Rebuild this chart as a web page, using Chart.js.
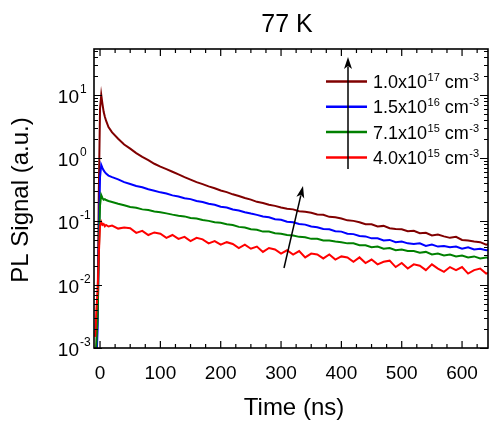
<!DOCTYPE html>
<html>
<head>
<meta charset="utf-8">
<script src="https://cdn.jsdelivr.net/npm/chart.js@4.4.0/dist/chart.umd.min.js"></script>
<style>
  html, body { margin: 0; padding: 0; background: #fff; }
  #wrap { width: 491px; height: 425px; }
</style>
</head>
<body>
<div id="wrap"><canvas id="pl-chart"></canvas></div>
<script>
// time axis (ns), dense at the excitation pulse
const timeNs = [-8, -6, -4, -2, 0, 2, 4, 6, 8, 10, 14,
  20, 30, 40, 50, 60, 70, 80, 90, 100, 110, 120, 130, 140, 150, 160, 170, 180, 190, 200,
  210, 220, 230, 240, 250, 260, 270, 280, 290, 300, 310, 320, 330, 340, 350, 360, 370, 380, 390, 400,
  410, 420, 430, 440, 450, 460, 470, 480, 490, 500, 510, 520, 530, 540, 550, 560, 570, 580, 590, 600,
  610, 620, 630, 640, 650];

// PL signal (a.u.) per excitation density
const signal1e17 = [0.0004, 0.0009, 0.004, 0.3, 6.0, 10.0, 7.2, 5.4, 4.5, 3.9, 3.1,
  2.55, 2.02, 1.64, 1.41, 1.2, 1.05, 0.93, 0.815, 0.735, 0.67, 0.61, 0.553, 0.5, 0.458, 0.418, 0.388, 0.358, 0.334, 0.308,
  0.29, 0.268, 0.252, 0.234, 0.221, 0.204, 0.196, 0.184, 0.176, 0.166, 0.158, 0.155, 0.145, 0.142, 0.137, 0.129, 0.127, 0.118, 0.116, 0.111,
  0.104, 0.102, 0.097, 0.09, 0.09, 0.083, 0.085, 0.078, 0.076, 0.075, 0.07, 0.071, 0.065, 0.066, 0.06, 0.062, 0.058, 0.055, 0.057, 0.051,
  0.05, 0.048, 0.047, 0.043, 0.045];
const signal15e16 = [0.0003, 0.0006, 0.002, 0.05, 0.5, 0.78, 0.7, 0.64, 0.6, 0.57, 0.53,
  0.50, 0.462, 0.418, 0.39, 0.362, 0.346, 0.322, 0.306, 0.288, 0.276, 0.258, 0.248, 0.233, 0.225, 0.21, 0.203, 0.19, 0.183, 0.171,
  0.166, 0.154, 0.149, 0.14, 0.133, 0.127, 0.12, 0.116, 0.108, 0.106, 0.099, 0.097, 0.091, 0.089, 0.083, 0.081, 0.076, 0.075, 0.07, 0.069,
  0.064, 0.063, 0.059, 0.058, 0.054, 0.054, 0.05, 0.051, 0.047, 0.048, 0.045, 0.044, 0.045, 0.041, 0.043, 0.04, 0.041, 0.039, 0.04, 0.037,
  0.039, 0.036, 0.037, 0.035, 0.036];
const signal71e15 = [0.0006, 0.0012, 0.003, 0.03, 0.18, 0.26, 0.235, 0.22, 0.225, 0.218, 0.21,
  0.203, 0.19, 0.18, 0.169, 0.164, 0.155, 0.151, 0.144, 0.14, 0.134, 0.128, 0.123, 0.12, 0.113, 0.111, 0.105, 0.102, 0.097, 0.095,
  0.09, 0.088, 0.082, 0.08, 0.075, 0.074, 0.069, 0.069, 0.065, 0.064, 0.061, 0.06, 0.057, 0.056, 0.053, 0.053, 0.05, 0.05, 0.048, 0.047,
  0.045, 0.045, 0.042, 0.042, 0.039, 0.04, 0.037, 0.038, 0.035, 0.036, 0.034, 0.034, 0.032, 0.033, 0.03, 0.031, 0.029, 0.03, 0.028, 0.029,
  0.027, 0.028, 0.026, 0.027, 0.025];
const signal40e15 = [0.0015, 0.004, 0.008, 0.03, 0.085, 0.098, 0.088, 0.091, 0.084, 0.088, 0.083,
  0.086, 0.077, 0.08, 0.078, 0.066, 0.071, 0.061, 0.067, 0.064, 0.055, 0.061, 0.053, 0.057, 0.049, 0.055, 0.052, 0.045, 0.049, 0.043,
  0.047, 0.044, 0.038, 0.043, 0.037, 0.04, 0.033, 0.038, 0.036, 0.031, 0.035, 0.03, 0.034, 0.027, 0.031, 0.03, 0.026, 0.03, 0.025, 0.028,
  0.027, 0.023, 0.027, 0.022, 0.025, 0.021, 0.023, 0.024, 0.019, 0.022, 0.018, 0.021, 0.02, 0.017, 0.021, 0.018, 0.016, 0.019, 0.017, 0.019,
  0.015, 0.017, 0.018, 0.015, 0.016];

// legend text: mantissa x10^exponent cm^-3
const legendMantissa = ['1.0', '1.5', '7.1', '4.0'];
const legendExponent = ['17', '16', '15', '15'];
const seriesColors = ['#800000', '#0000ff', '#008000', '#ff0000'];

// ticks
const xTickValues = [0, 100, 200, 300, 400, 500, 600];
const yTickExponents = [1, 0, -1, -2, -3];

const FONT = '"Liberation Sans", Arial, Helvetica, sans-serif';

function drawArrow(ctx, x1, y1, x2, y2) {
    const ang = Math.atan2(y2 - y1, x2 - x1);
    const headLen = 12, headW = 4;
    ctx.beginPath();
    ctx.moveTo(x1, y1);
    ctx.lineTo(x2 - Math.cos(ang) * headLen * 0.8, y2 - Math.sin(ang) * headLen * 0.8);
    ctx.stroke();
    ctx.beginPath();
    ctx.moveTo(x2, y2);
    ctx.lineTo(x2 - Math.cos(ang) * headLen + Math.sin(ang) * headW, y2 - Math.sin(ang) * headLen - Math.cos(ang) * headW);
    ctx.lineTo(x2 - Math.cos(ang) * headLen * 0.75, y2 - Math.sin(ang) * headLen * 0.75);
    ctx.lineTo(x2 - Math.cos(ang) * headLen - Math.sin(ang) * headW, y2 - Math.sin(ang) * headLen + Math.cos(ang) * headW);
    ctx.closePath();
    ctx.fill();
}

const decor = {
    id: 'decor',
    afterDatasetsDraw(chart) {
        const { ctx, chartArea: a, scales: { x, y } } = chart;
        ctx.save();
        ctx.strokeStyle = '#000';
        ctx.fillStyle = '#000';

        // frame
        ctx.lineWidth = 1.6;
        ctx.strokeRect(a.left, a.top, a.right - a.left, a.bottom - a.top);

        // x ticks, inward, mirrored on top
        ctx.lineWidth = 1.2;
        ctx.beginPath();
        for (let v = 0; v <= x.max; v += 25) {
            const px = x.getPixelForValue(v);
            const len = v % 100 === 0 ? 7 : 4;
            ctx.moveTo(px, a.bottom); ctx.lineTo(px, a.bottom - len);
            ctx.moveTo(px, a.top); ctx.lineTo(px, a.top + len);
        }
        // y ticks, log decades + minors, mirrored on right
        for (let d = -3; d <= 1; d++) {
            for (let k = 1; k <= 9; k++) {
                const v = k * Math.pow(10, d);
                if (v > y.max) break;
                const py = Math.round(y.getPixelForValue(v)) + 0.5;
                const len = k === 1 ? 8 : 4;
                ctx.moveTo(a.left, py); ctx.lineTo(a.left + len, py);
                ctx.moveTo(a.right, py); ctx.lineTo(a.right - len, py);
            }
        }
        ctx.stroke();

        // x tick labels
        ctx.font = '19px ' + FONT;
        ctx.textAlign = 'center';
        ctx.textBaseline = 'alphabetic';
        xTickValues.forEach(v => ctx.fillText(String(v), x.getPixelForValue(v), 379));

        // y tick labels 10^n
        yTickExponents.forEach(e => {
            const py = y.getPixelForValue(Math.pow(10, e));
            ctx.font = '19px ' + FONT;
            ctx.textAlign = 'right';
            ctx.fillText('10', 79, py + 8);
            ctx.font = '12px ' + FONT;
            ctx.textAlign = 'left';
            ctx.fillText(String(e), 80, py - 2);
        });

        // titles
        ctx.textAlign = 'center';
        ctx.font = '25px ' + FONT;
        ctx.fillText('77 K', 287, 32);
        ctx.font = '24px ' + FONT;
        ctx.fillText('Time (ns)', 294, 415);
        ctx.save();
        ctx.translate(28, 200);
        ctx.rotate(-Math.PI / 2);
        ctx.fillText('PL Signal (a.u.)', 0, 0);
        ctx.restore();

        // legend
        ctx.textAlign = 'left';
        legendMantissa.forEach((m, i) => {
            const ly = 81.5 + i * 25.3;
            ctx.strokeStyle = seriesColors[i];
            ctx.lineWidth = 2.5;
            ctx.beginPath();
            ctx.moveTo(326, ly); ctx.lineTo(367, ly);
            ctx.stroke();
            let tx = 373;
            const base = ly + 6.5;
            ctx.font = '18px ' + FONT;
            ctx.fillText(m + 'x10', tx, base);
            tx += ctx.measureText(m + 'x10').width + 0.5;
            ctx.font = '11px ' + FONT;
            ctx.fillText(legendExponent[i], tx, base - 7);
            tx += ctx.measureText(legendExponent[i]).width;
            ctx.font = '18px ' + FONT;
            ctx.fillText(' cm', tx, base);
            tx += ctx.measureText(' cm').width + 0.5;
            ctx.font = '11px ' + FONT;
            ctx.fillText('-3', tx, base - 7);
        });

        // arrows
        ctx.strokeStyle = '#000';
        ctx.lineWidth = 1.5;
        drawArrow(ctx, 348, 169, 348, 57);
        drawArrow(ctx, 284, 268, 303, 186);

        ctx.restore();
    }
};

const series = [signal1e17, signal15e16, signal71e15, signal40e15];

new Chart(document.getElementById('pl-chart'), {
    type: 'line',
    data: {
        datasets: series.map((s, i) => ({
            label: legendMantissa[i] + 'x10^' + legendExponent[i] + ' cm^-3',
            data: timeNs.map((t, j) => ({ x: t, y: s[j] })),
            borderColor: seriesColors[i],
            borderWidth: 2,
            pointRadius: 0,
            tension: 0,
            fill: false,
            order: 3 - i
        }))
    },
    options: {
        responsive: true,
        maintainAspectRatio: false,
        animation: false,
        layout: { padding: { left: 94, top: 49, right: 3, bottom: 77 } },
        scales: {
            x: { type: 'linear', min: -10, max: 643, display: false },
            y: { type: 'logarithmic', min: 0.001, max: 53, display: false }
        },
        plugins: {
            legend: { display: false },
            tooltip: { enabled: false }
        }
    },
    plugins: [decor]
});
</script>
</body>
</html>
